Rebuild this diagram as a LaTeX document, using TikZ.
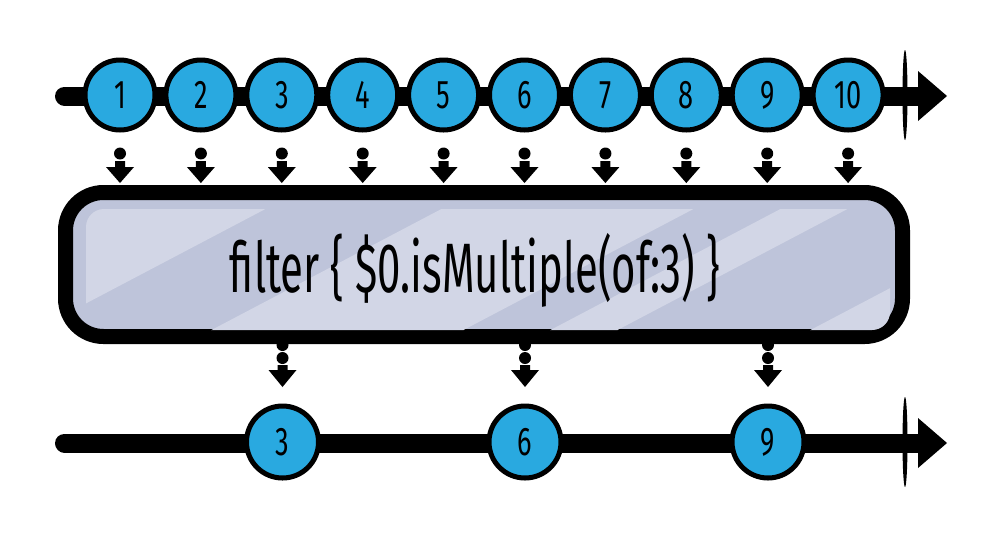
\documentclass[tikz,border=0pt]{standalone}
\usepackage{fontspec}
\usepackage{graphicx}
\setmainfont{Fira Sans}
\usetikzlibrary{arrows.meta,decorations.markings,calc,shapes.geometric}
\pgfdeclarelayer{bg}
\pgfdeclarelayer{paper}
\pgfsetlayers{paper,bg,main}
\definecolor{ballblue}{HTML}{29A9E0}
\definecolor{boxdark}{HTML}{BEC4DA}
\definecolor{boxlight}{HTML}{D2D6E6}
\newcommand\numlbl[1]{\scalebox{0.68}[1]{\fontsize{40}{40}\selectfont #1}}
\begin{document}
\begin{tikzpicture}[x=1pt,y=-1pt,
  ballA/.style={circle,draw=black,fill=ballblue,line width=5pt,minimum size=70pt,inner sep=0pt},
  ballB/.style={circle,draw=black,fill=ballblue,line width=5pt,minimum size=72pt,inner sep=0pt},
  timeline/.style={line width=19pt,line cap=round,-{Triangle[length=29pt,width=50pt,line width=0pt]}},
  tickmark/.style={ellipse,fill=black,minimum width=5pt,minimum height=90pt,inner sep=0pt},
  opbox/.style={draw=black,fill=boxdark,line width=15pt,rounded corners=38pt,minimum width=837pt,minimum height=144pt,inner sep=0pt},
  dotarrowA/.style={postaction={decorate,decoration={markings,
      mark=at position 21pt with {\fill[black] (0,0) circle (6pt);},
      mark=at position 50.5pt with {\fill[black] (0pt,0pt) -- (-16pt,14pt) -- (-16pt,5pt) -- (-22pt,5pt) -- (-22pt,-5pt) -- (-16pt,-5pt) -- (-16pt,-14pt) -- cycle;}}}},
  dotarrowB/.style={postaction={decorate,decoration={markings,
      mark=at position 1pt with {\fill[black] (0,0) circle (6pt);},
      mark=at position 14pt with {\fill[black] (0,0) circle (6pt);},
      mark=at position 43pt with {\fill[black] (0pt,0pt) -- (-17pt,14pt) -- (-17pt,5pt) -- (-22pt,5pt) -- (-22pt,-5pt) -- (-17pt,-5pt) -- (-17pt,-14pt) -- cycle;}}}}
]
\useasboundingbox (0,0) rectangle (1008,547);
\begin{pgfonlayer}{paper}
\fill[white] (0,0) rectangle (1008,547);
\end{pgfonlayer}

% top timeline
\coordinate (ts) at (64.5,96);
\coordinate (te) at (947,96);
\draw[timeline] (ts) -- (te);
\node[tickmark] (tk1) at (905,95) {};
\foreach \i in {1,...,10}
  \node[ballA] (t\i) at ({120+80.9*(\i-1)},95) {\numlbl{\i}};

% operator box
\node[opbox] (box) at (484,264.5) {};
\begin{scope}
  \clip[rounded corners=18pt] (86,209) rectangle (890,330);
  \foreach \a/\b in {-300/273, 449/701, 788/855, 1048/1124}
    \fill[boxlight] ({\a+9.5},200) -- ({\b+9.5},200) -- ({\b-256.5},340) -- ({\a-256.5},340) -- cycle;
\end{scope}
\node[inner sep=0pt] (lbl) at (475,270) {\resizebox*{490pt}{74pt}{filter \{ \$0.isMultiple(of:3) \}}};

% arrows into box
\foreach \i in {1,...,10}
  \path[dotarrowA] (t\i.south) -- (t\i.south |- box.north);

% bottom timeline
\coordinate (bs) at (64.5,443);
\coordinate (be) at (947,443);
\draw[timeline] (bs) -- (be);
\node[tickmark] (tk2) at (905,442) {};
\node[ballB] (b3) at (282.5,442) {\numlbl{3}};
\node[ballB] (b6) at (525,442) {\numlbl{6}};
\node[ballB] (b9) at (768,442) {\numlbl{9}};

% arrows out of box
\begin{pgfonlayer}{bg}
\foreach \n in {b3,b6,b9}
  \path[dotarrowB] (box.south -| \n) -- (\n.north);
\end{pgfonlayer}
\end{tikzpicture}
\end{document}
